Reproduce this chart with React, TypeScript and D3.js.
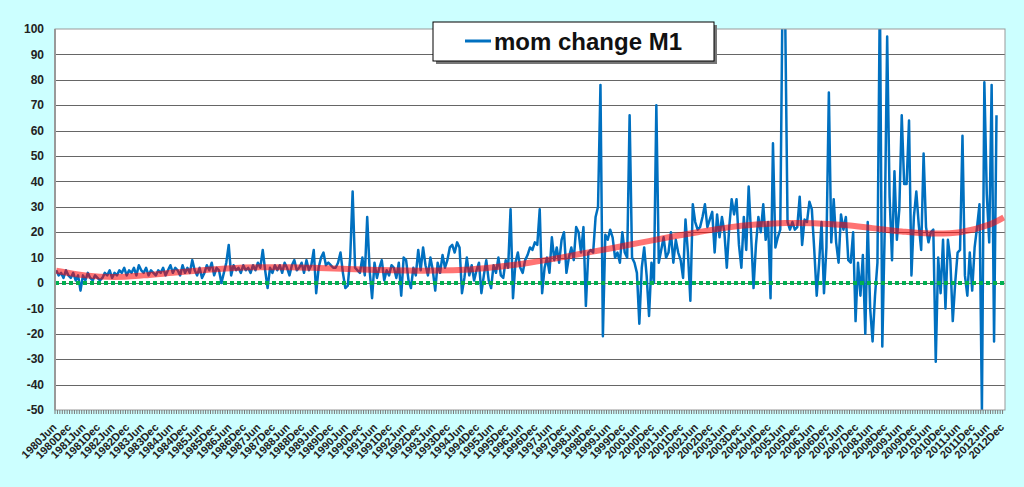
import React from 'react';
import * as d3 from 'd3';

const W = 1024;
const H = 487;
const plot = { left: 55, right: 1005, top: 29, bottom: 410 };

// mom change of M1, monthly, Jun 1980 .. Dec 1989
const m1980s = [
  5, 3, 4, 2, 5, 3, 2,
  4, 1, 3, -3, 3, 1, 4, 2, 1, 3, 2, 1,
  2, 4, 3, 5, 2, 4, 3, 5, 4, 6, 3, 5,
  4, 6, 3, 7, 5, 4, 6, 3, 5, 4, 3, 5,
  4, 6, 3, 5, 7, 4, 6, 5, 3, 7, 4, 6,
  4, 9, 5, 3, 6, 2, 4, 7, 5, 8, 3, 6,
  5, 0, 4, 8, 15, 3, 7, 5, 6, 4, 7, 5,
  6, 4, 7, 5, 8, 6, 13, 5, -2, 6, 4, 7,
  5, 7, 4, 8, 6, 3, 7, 9, 5, 6, 8, 4,
  9, 5, 7, 13, -4, 6, 10, 12, 7, 8, 7, 6,
];

// Jan 1990 .. Dec 1999
const m1990s = [
  6, 8, 12, 4, -2, -1, 10, 36, 6, 5, 4, 10,
  3, 26, 5, -6, 8, 2, 6, 9, 1, 5, 3, 7,
  6, 2, 8, -5, 10, 9, 1, -2, 6, 3, 13, 5,
  14, 7, 3, 10, 5, -3, 8, 4, 11, 6, 9, 14,
  15, 12, 16, 14, -4, 2, 10, 3, 7, 1, 5, 8,
  -4, 3, 9, 1, -2, 7, 4, 10, 3, 2, 9, 6,
  29, -6, 8, 12, 6, 4, 9, 11, 14, 13, 16, 15,
  29, -4, 6, 10, 4, 18, 9, 14, 8, 17, 20, 4,
  10, 14, 9, 22, 20, 12, 22, -9, 12, 13, 12, 26,
  30, 78, -21, 19, 17, 21, 18, 10, 12, 8, 20, 12,
];

// Jan 2000 .. Dec 2009
const m2000s = [
  10, 66, 10, 8, 4, -16, 6, 14, 3, -13, 8, 0,
  70, 8, 13, 18, 10, 12, 20, 8, 17, 12, 9, 2,
  25, 12, -7, 31, 24, 21, 22, 26, 31, 22, 25, 28,
  12, 27, 18, 26, 20, 6, 22, 33, 27, 33, 15, 6,
  26, 13, 38, 19, -2, 15, 26, 20, 31, 17, 24, -6,
  55, 14, 18, 21, 120, 108, 24, 21, 24, 21, 22, 34,
  15, 25, 24, 32, 29, 13, -5, 8, 24, -4, 14, 75,
  16, 33, 16, 8, 27, 21, 26, 9, 8, 20, -15, 8,
  -5, 11, -20, 24, -10, -23, -5, 8, 115, -25, 21, 97,
  34, 9, 44, 17, 29, 66, 39, 39, 64, 3, 26, 36,
];

// Jan 2010 .. Sep 2012
const m2010s = [
  23, 13, 51, 22, 16, 20, 21, -31, 10, -4, 17, -10,
  17, 9, -15, 0, 12, 13, 58, 3, -5, 12, -3, 14,
  22, 31, -50, 79, 35, 16, 78, -23, 66,
];

const momChange = [...m1980s, ...m1990s, ...m2000s, ...m2010s];

// trend line, read at June of each year, plus the end point
const trendYears = d3.range(1980, 2013);
const trendValues = [
  4.8, 3.0, 2.4, 3.0, 4.0, 5.0, 5.8, 6.2, 6.2, 5.9, 5.5,
  5.1, 4.9, 4.9, 5.2, 6.2, 7.6, 9.4, 11.5, 13.6, 15.8,
  18.0, 20.0, 21.8, 23.0, 23.6, 23.5, 22.8, 21.6, 20.3, 19.5,
  20.0, 23.0,
];
const trendEnd = 25.8;

const months = d3.timeMonth.range(new Date(1980, 5, 1), new Date(2013, 0, 1));
const fmtMon = d3.timeFormat('%b');
const yTicks = d3.range(-50, 101, 10);

const App = () => {
  const x = d3.scaleBand<number>().domain(d3.range(months.length)).range([plot.left, plot.right]);
  const cx = (i: number) => (x(i) as number) + x.bandwidth() / 2;
  const y = d3.scaleLinear().domain([-50, 100]).range([plot.bottom, plot.top]);

  const line = d3.line<number>().x((d, i) => cx(i)).y((d) => y(d));

  const trendPts: [number, number][] = trendYears.map((yr, i) => [(yr - 1980) * 12, trendValues[i]]);
  trendPts.push([months.length - 1, trendEnd]);
  const trendLine = d3.line<[number, number]>()
    .x((d) => cx(d[0]))
    .y((d) => y(d[1]))
    .curve(d3.curveCatmullRom);

  const labelIdx = months.map((d, i) => i).filter((i) => months[i].getMonth() === 5 || months[i].getMonth() === 11);
  const zeroY = Math.round(y(0));

  return (
    <svg width={W} height={H} style={{ position: 'absolute', left: 0, top: 0, fontFamily: 'Arial, "Liberation Sans", sans-serif' }}>
      <rect width={W} height={H} fill="#ccffff" />
      <rect x={plot.left} y={plot.top} width={plot.right - plot.left} height={plot.bottom - plot.top} fill="#fff" />
      <defs>
        <clipPath id="plotClip">
          <rect x={plot.left} y={plot.top} width={plot.right - plot.left} height={plot.bottom - plot.top} />
        </clipPath>
      </defs>
      {yTicks.map((t) => (
        <g key={t}>
          {t > -50 && t < 100 && (
            <line x1={plot.left} x2={plot.right} y1={Math.round(y(t)) + 0.5} y2={Math.round(y(t)) + 0.5} stroke="#666" strokeWidth={1} />
          )}
          <text x={44} y={y(t)} dy="0.35em" textAnchor="end" fontSize={12} fontWeight="bold" fill="#222">
            {t}
          </text>
        </g>
      ))}
      <g clipPath="url(#plotClip)">
        <path d={line(momChange) || ''} fill="none" stroke="#0070c0" strokeWidth={2.5} strokeLinejoin="round" />
      </g>
      <line x1={plot.left} x2={plot.right} y1={zeroY} y2={zeroY} stroke="#00b050" strokeWidth={4} strokeDasharray="4 3" />
      <g clipPath="url(#plotClip)">
        <path d={trendLine(trendPts) || ''} fill="none" stroke="#ff0000" strokeOpacity={0.55} strokeWidth={6} />
      </g>
      <rect x={plot.left} y={plot.top} width={plot.right - plot.left} height={plot.bottom - plot.top} fill="none" stroke="#999" strokeWidth={1} />
      <line x1={plot.left} x2={plot.left} y1={plot.top} y2={plot.bottom} stroke="#999" strokeWidth={2} />
      {months.map((d, i) => (
        <line key={i} x1={x(i) as number} x2={x(i) as number} y1={plot.bottom} y2={plot.bottom + 4} stroke="#777" strokeWidth={1} />
      ))}
      {labelIdx.map((i) => (
        <text
          key={i}
          transform={`translate(${cx(i) + 1},${428}) rotate(-45)`}
          textAnchor="end"
          fontSize={11}
          fontWeight="bold"
          fill="#222"
        >
          {months[i].getFullYear() + fmtMon(months[i])}
        </text>
      ))}
      <g>
        <rect x={436} y={25} width={281} height={39} fill="#777" />
        <rect x={433} y={22} width={281} height={39} fill="#fff" stroke="#000" strokeWidth={1} />
        <line x1={465} x2={491} y1={41} y2={41} stroke="#0070c0" strokeWidth={3} />
        <text x={494} y={50} fontSize={24} fontWeight="bold" fill="#111">
          mom change M1
        </text>
      </g>
    </svg>
  );
};

export default App;
